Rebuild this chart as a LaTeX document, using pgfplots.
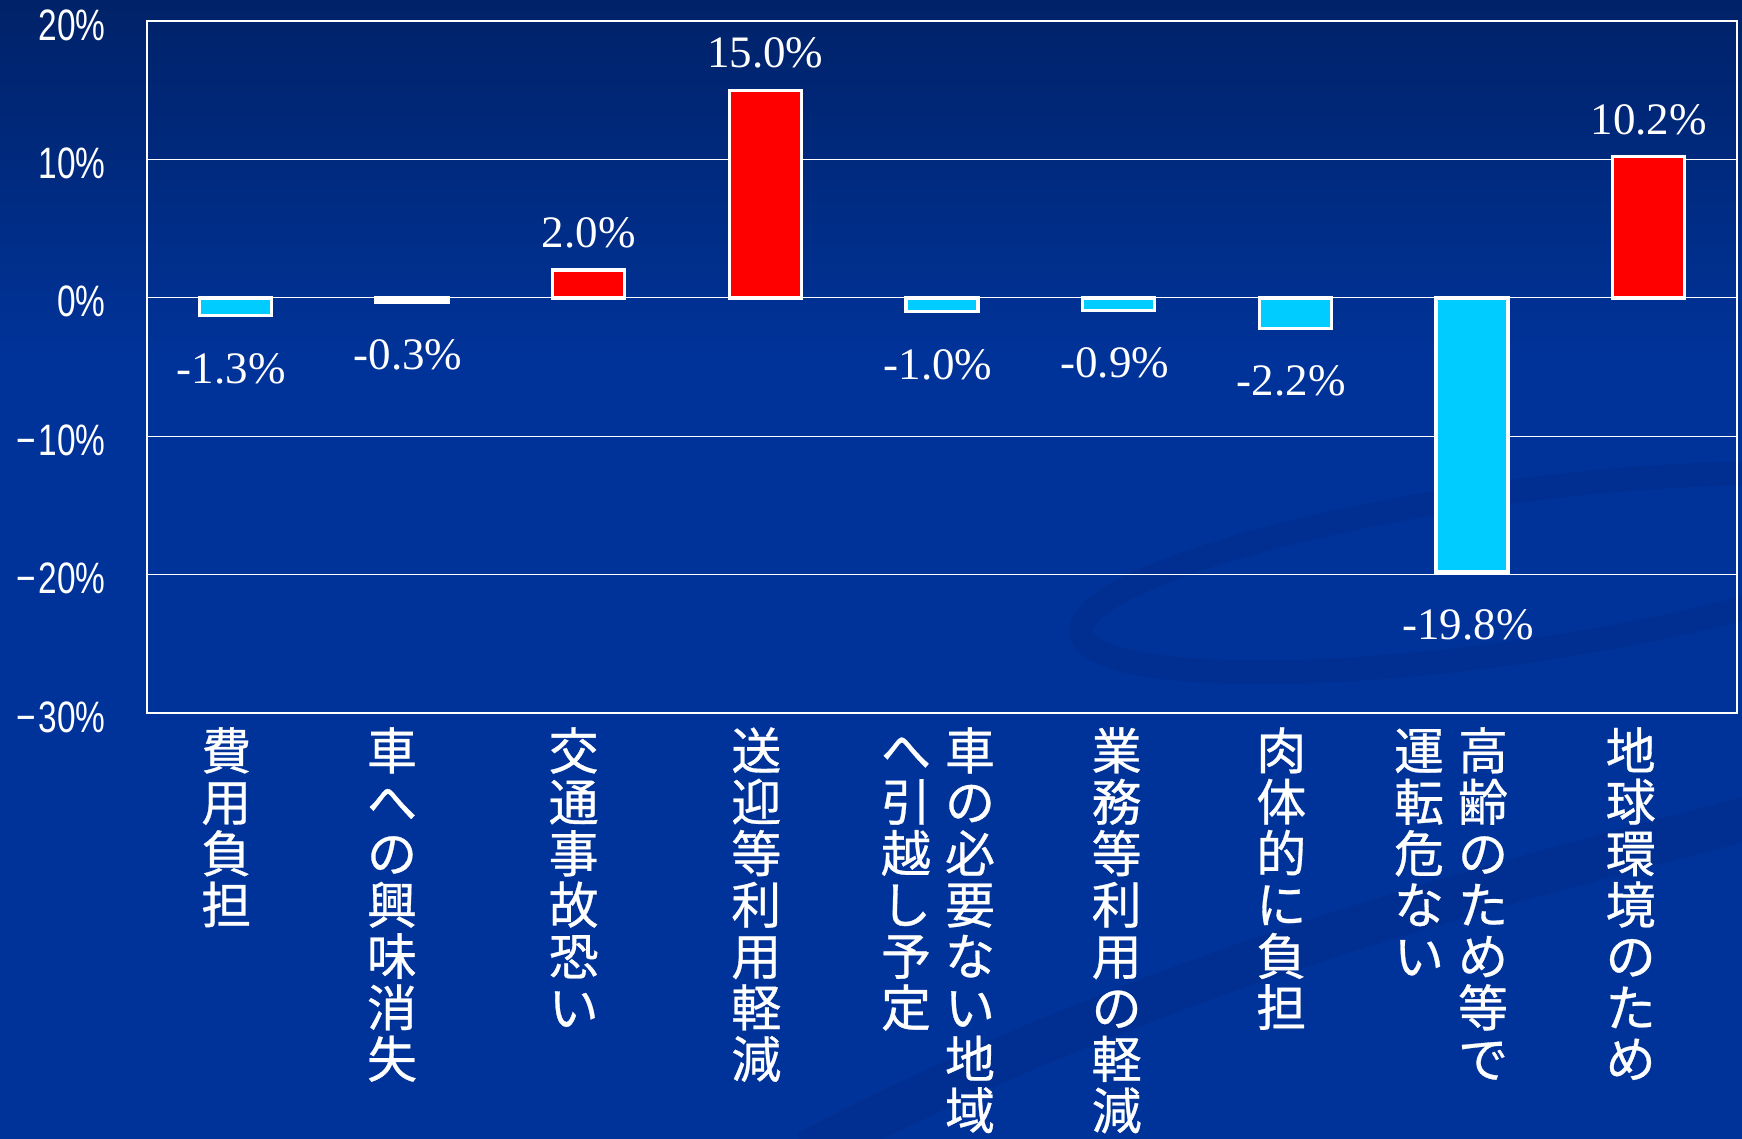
\documentclass[border=0pt]{standalone}
\usepackage{pgfplots}
\pgfplotsset{compat=1.18}
\usepackage{fontspec}
\setmainfont{Liberation Serif}
\newfontfamily\cjk[FakeBold=0.6]{Noto Sans CJK JP}
\newfontfamily\ticksans[FakeStretch=0.76]{Liberation Sans}
\definecolor{bgtop}{RGB}{0,34,104}
\definecolor{bgbot}{RGB}{0,51,153}
\definecolor{swoosh}{RGB}{0,40,128}
\definecolor{barred}{RGB}{255,0,0}
\definecolor{barcyan}{RGB}{0,204,255}
\newcommand\vc[1]{\parbox[t]{25pt}{\centering #1}}
\newcommand\mn{\makebox[12.5pt]{−}}
\begin{document}
\begin{tikzpicture}
% background
\fill[bgbot] (-73.5pt,-213pt) rectangle (797.5pt,356.5pt);
\shade[top color=bgtop, bottom color=bgbot] (-73.5pt,176.5pt) rectangle (797.5pt,356.5pt);
% decorative swoosh
\begin{scope}[opacity=0.3]
\draw[swoosh, line width=12pt, rotate around={8:(680pt,70pt)}] (680pt,70pt) ellipse [x radius=215pt, y radius=40pt];
\draw[swoosh, line width=22pt] (330pt,-220pt) .. controls (520pt,-120pt) and (700pt,-80pt) .. (810pt,-50pt);
\end{scope}
\begin{axis}[
  at={(0pt,0pt)}, anchor=south west,
  scale only axis,
  width=795pt, height=346pt,
  xmin=-0.5, xmax=8.5,
  ymin=-30, ymax=20,
  enlargelimits=false,
  axis line style={white, line width=1.2pt},
  major tick length=0pt,
  ytick={-30,-20,-10,0,10,20},
  yticklabels={\mn30\%,\mn20\%,\mn10\%,0\%,10\%,20\%},
  yticklabel style={font=\ticksans\fontsize{22pt}{24pt}\selectfont, text=white, anchor=east, inner sep=0pt, xshift=-20.5pt, yshift=-2pt},
  ymajorgrids,
  grid style={white, line width=0.5pt},
  xtick={0,1,2,3,4,5,6,7,8},
  xticklabels={
    {\vc{費\\用\\負\\担}\hspace*{9pt}},
    {\vc{車\\へ\\の\\興\\味\\消\\失}\hspace*{20pt}},
    {\vc{交\\通\\事\\故\\恐\\い}\hspace*{15pt}},
    {\vc{送\\迎\\等\\利\\用\\軽\\減}\hspace*{9pt}},
    {\vc{へ\\引\\越\\し\\予\\定}\hspace*{7pt}\vc{車\\の\\必\\要\\な\\い\\地\\域}\hspace*{4pt}},
    {\vc{業\\務\\等\\利\\用\\の\\軽\\減}\hspace*{2pt}},
    {\vc{肉\\体\\的\\に\\負\\担}\hspace*{14pt}},
    {\vc{運\\転\\危\\な\\い}\hspace*{7pt}\vc{高\\齢\\の\\た\\め\\等\\で}\hspace*{21pt}},
    {\vc{地\\球\\環\\境\\の\\た\\め}\hspace*{18pt}}
  },
  xticklabel style={font=\cjk\fontsize{25pt}{25.7pt}\selectfont, text=white, anchor=north, inner sep=0pt, yshift=-7pt},
  /pgf/number format/assume math mode=true,
  /pgf/number format/fixed,
  /pgf/number format/fixed zerofill,
  /pgf/number format/precision=1,
]
\addplot[ybar, bar shift=0pt, bar width=36pt, fill=barred, draw=white, line width=1.7pt,
  nodes near coords={\pgfmathprintnumber{\pgfplotspointmeta}\%},
  every node near coord/.style={anchor=south, inner sep=0pt, yshift=10pt, text=white, font=\fontsize{22.5pt}{24pt}\selectfont}]
  coordinates {(2,2.0) (3,15.0) (8,10.2)};
\addplot[ybar, bar shift=0pt, bar width=36pt, fill=barcyan, draw=white, line width=1.7pt,
  nodes near coords={\pgfmathprintnumber{\pgfplotspointmeta}\%},
  every node near coord/.style={anchor=north, inner sep=0pt, yshift=-18pt, xshift=-2pt, text=white, font=\fontsize{22.5pt}{24pt}\selectfont}]
  coordinates {(0,-1.3) (1,-0.3) (4,-1.0) (5,-0.9) (6,-2.2) (7,-19.8)};
\end{axis}
\pgfresetboundingbox
\path[use as bounding box] (-73.5pt,-213pt) rectangle (797.5pt,356.5pt);
\end{tikzpicture}
\end{document}
